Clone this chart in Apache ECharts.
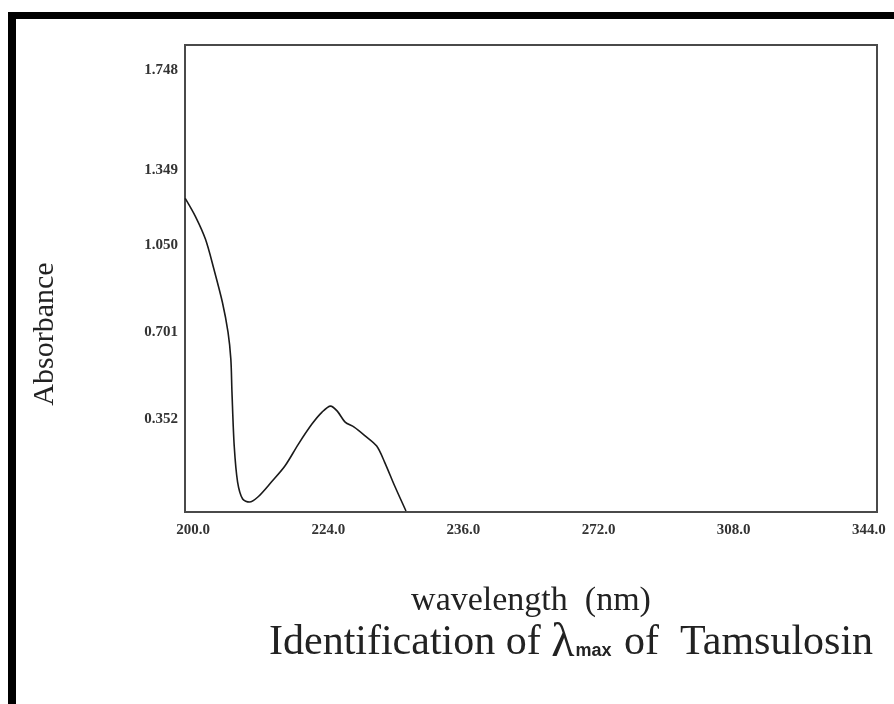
<!DOCTYPE html>
<html>
<head>
<meta charset="utf-8">
<script src="https://cdn.jsdelivr.net/npm/echarts@6/dist/echarts.min.js"></script>
<style>
html,body{margin:0;padding:0;background:#fff;}
#chart{width:894px;height:704px;}
</style>
</head>
<body>
<div id="chart"></div>
<script>
// Tick labels as printed on the axes (x ticks are evenly spaced on the plot)
const xTickNm = [200, 224, 236, 272, 308, 344];
const xTickLabels = ['200.0', '224.0', '236.0', '272.0', '308.0', '344.0'];
const yTickValues = [0.352, 0.701, 1.050, 1.349, 1.748];

// Absorbance spectrum
const wavelength = [198.6, 200.4, 202.2, 203.7, 205.2, 206.2, 206.7, 206.9, 207.3, 207.9,
  208.8, 210.0, 211.5, 213.9, 216.3, 218.7, 221.1, 222.9, 224.2, 224.8,
  225.5, 226.3, 227.3, 228.3, 229.0, 229.9, 230.9];
const absorbance = [1.236, 1.164, 1.072, 0.952, 0.820, 0.700, 0.592, 0.460, 0.244, 0.100,
  0.032, 0.020, 0.040, 0.100, 0.164, 0.252, 0.332, 0.380, 0.404, 0.384,
  0.340, 0.320, 0.284, 0.244, 0.180, 0.084, -0.016];

// map a wavelength onto the evenly spaced tick index scale of the x axis
function nmToTick(nm) {
  for (let i = 0; i < xTickNm.length - 1; i++) {
    if (nm <= xTickNm[i + 1] || i === xTickNm.length - 2) {
      return i + (nm - xTickNm[i]) / (xTickNm[i + 1] - xTickNm[i]);
    }
  }
}
const seriesData = wavelength.map((w, i) => [nmToTick(w), absorbance[i]]);

const chart = echarts.init(document.getElementById('chart'));
const serif = '"Liberation Serif", "DejaVu Serif", serif';
chart.setOption({
  animation: false,
  backgroundColor: '#fff',
  grid: {
    left: 185, top: 45, width: 692, height: 467,
    show: true, borderColor: '#4a4a4a', borderWidth: 2, backgroundColor: 'transparent'
  },
  xAxis: {
    type: 'value',
    min: -0.06, max: 5.06,
    axisLine: { show: false },
    axisTick: { show: false },
    splitLine: { show: false },
    axisLabel: {
      customValues: xTickLabels.map((_, i) => i),
      formatter: v => xTickLabels[Math.round(v)],
      fontFamily: serif, fontWeight: 'bold', fontSize: 15, color: '#333', margin: 11
    },
    name: 'wavelength  (nm)',
    nameLocation: 'middle',
    nameGap: 72,
    nameTextStyle: { fontFamily: serif, fontSize: 34, color: '#222' }
  },
  yAxis: {
    type: 'value',
    min: -0.02, max: 1.85,
    axisLine: { show: false },
    axisTick: { show: false },
    splitLine: { show: false },
    axisLabel: {
      customValues: yTickValues,
      formatter: v => v.toFixed(3),
      fontFamily: serif, fontWeight: 'bold', fontSize: 15, color: '#333', margin: 7
    }
  },
  title: {
    text: 'Identification of {lam|λ}{max|max} of  Tamsulosin',
    left: 264, top: 614,
    textStyle: {
      fontFamily: serif, fontSize: 42, fontWeight: 'normal', color: '#222',
      rich: {
        lam: { fontFamily: serif, fontSize: 48, fontWeight: 'normal', color: '#222' },
        max: { fontFamily: '"Liberation Sans", sans-serif', fontSize: 18, fontWeight: 'bold', color: '#222',
               verticalAlign: 'bottom', padding: [0, 2, 7, 1] }
      }
    }
  },
  graphic: [
    { type: 'rect', shape: { x: 8, y: 12, width: 8, height: 700 }, style: { fill: '#000' } },
    { type: 'rect', shape: { x: 8, y: 12, width: 890, height: 7 }, style: { fill: '#000' } },
    {
      type: 'text', x: 45, y: 334, rotation: Math.PI / 2,
      style: {
        text: 'Absorbance', fontFamily: serif, fontSize: 30, fill: '#222',
        align: 'center', verticalAlign: 'middle'
      }
    }
  ],
  series: [{
    type: 'line',
    data: seriesData,
    showSymbol: false,
    smooth: 0.3,
    lineStyle: { color: '#1a1a1a', width: 1.6 }
  }]
});
</script>
</body>
</html>
